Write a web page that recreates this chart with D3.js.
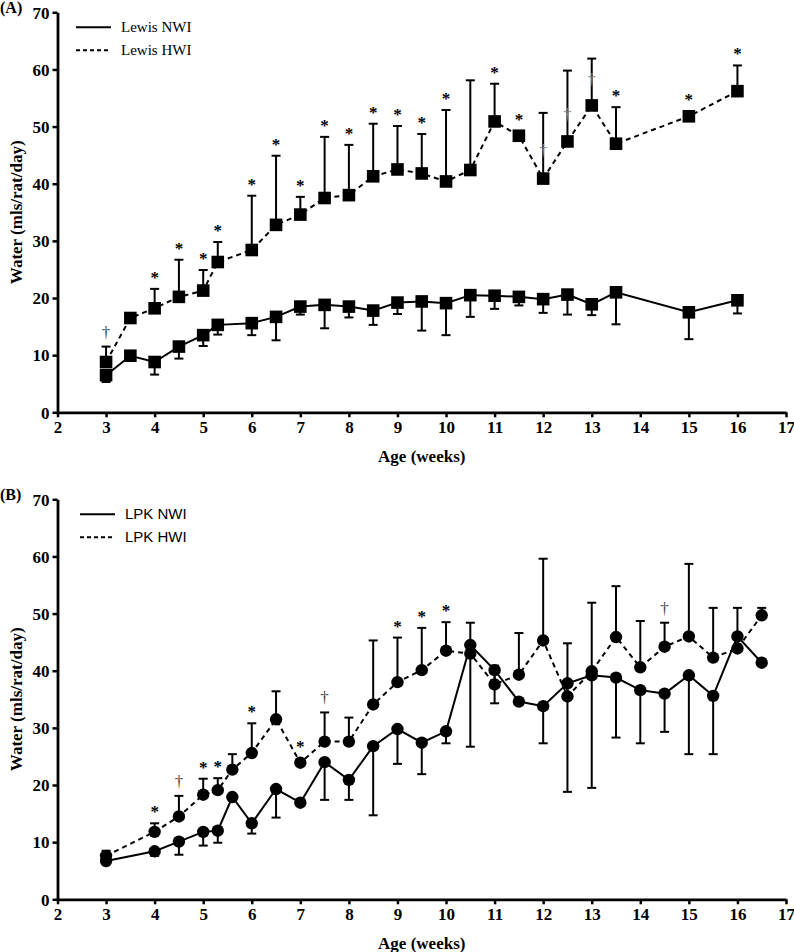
<!DOCTYPE html>
<html><head><meta charset="utf-8">
<script src="https://cdn.jsdelivr.net/npm/d3@7"></script>
<style>body{margin:0;background:#fff}svg{display:block}</style>
</head><body>
<svg id="c" width="794" height="952"></svg>
<script>
// ---------- DATA ----------
const xTicks = [2,3,4,5,6,7,8,9,10,11,12,13,14,15,16,17];
const yTicks = [0,10,20,30,40,50,60,70];

// Panel A : Lewis
const weeksA = [3,3.5,4,4.5,5,5.3,6,6.5,7,7.5,8,8.5,9,9.5,10,10.5,11,11.5,12,12.5,13,13.5,15,16];
const lewisNWI    = [6.5,9.9,8.8,11.5,13.5,15.3,15.6,16.7,18.5,18.8,18.5,17.8,19.2,19.4,19.1,20.5,20.4,20.2,19.8,20.6,18.9,21.0,17.5,19.6];
const lewisNWIerr = [1.2,0,2.2,2.1,1.9,1.7,2.1,4.1,1.4,4.1,1.9,2.5,2.0,5.1,5.6,3.8,2.3,1.5,2.4,3.5,1.9,5.6,4.7,2.3];
const lewisHWI    = [8.8,16.5,18.2,20.2,21.3,26.3,28.4,32.8,34.6,37.5,38.0,41.3,42.5,41.8,40.4,42.4,50.9,48.4,40.9,47.4,53.7,47.0,51.8,56.2];
const lewisHWIerr = [2.7,0,3.4,6.5,3.6,3.5,9.5,12.1,3.1,10.7,8.8,9.2,7.6,6.9,12.5,15.7,6.6,0,11.5,12.4,8.2,6.4,0,4.5];
const sigA        = ["†","","*","*","*","*","*","*","*","*","*","*","*","*","*","","*","*","","","","*","*","*"];
const greyDaggerWeeksA  = [12,12.5,13];
const greyDaggerValuesA = [45.6,52.0,58.1];

// Panel B : LPK
const weeksB = [3,4,4.5,5,5.3,5.6,6,6.5,7,7.5,8,8.5,9,9.5,10,10.5,11,11.5,12,12.5,13,13.5,14,14.5,15,15.5,16,16.5];
const lpkNWI    = [6.7,8.4,10.1,11.8,12.0,17.9,13.3,19.3,16.9,24.0,20.9,26.8,29.8,27.4,29.4,44.5,40.1,34.6,33.8,37.8,39.2,38.8,36.6,36.0,39.2,35.6,46.0,41.4];
const lpkNWIerr = [0,0.8,2.3,2.4,2.1,0,1.8,5.0,0,6.6,3.5,12.1,6.1,5.5,2.1,17.8,5.8,0,6.5,19.0,19.7,10.5,9.3,6.7,13.8,10.2,0,0];
const lpkHWI    = [7.6,11.8,14.5,18.3,19.1,22.7,25.6,31.5,23.9,27.6,27.6,34.1,38.0,40.1,43.5,43.0,37.6,39.3,45.3,35.5,39.9,45.9,40.6,44.2,46.0,42.3,43.9,49.7];
const lpkHWIerr = [0.9,1.5,3.6,2.8,2.1,2.7,5.2,4.9,0,5.1,4.2,11.2,7.8,7.4,5.0,5.4,3.3,7.3,14.3,9.3,12.0,8.9,8.1,4.2,12.7,8.7,7.1,1.3];
const sigB      = ["","*","†","*","*","","*","","*","†","","","*","*","*","","","","","","","","","†","","","",""];

// ---------- DRAW ----------
const svg = d3.select("#c");
const SERIF = "'Liberation Serif','Times New Roman',serif";
const SANS = "'Liberation Sans',Arial,sans-serif";

function panel(opt){
  const x = d3.scaleLinear().domain([2,17]).range([57.5,786]);
  const y = d3.scaleLinear().domain([0,70]).range([opt.y0, opt.y0-400]);
  const g = svg.append("g");

  // axes
  const ax = g.append("g").attr("transform",`translate(0,${opt.y0})`)
    .call(d3.axisBottom(x).tickValues(xTicks).tickFormat(d3.format("d")).tickSize(5).tickSizeOuter(0).tickPadding(4));
  const ay = g.append("g").attr("transform",`translate(57.5,0)`)
    .call(d3.axisLeft(y).tickValues(yTicks).tickFormat(d3.format("d")).tickSize(5).tickSizeOuter(0).tickPadding(3));
  [ax,ay].forEach(a=>{
    a.select(".domain").attr("stroke","#000").attr("stroke-width",2.8);
    a.selectAll(".tick line").attr("stroke","#000").attr("stroke-width",2.5);
    a.selectAll(".tick text").attr("fill","#000").style("font-family",SERIF)
      .style("font-weight","bold").style("font-size","17px");
  });
  ay.selectAll(".tick text").attr("dy","0.34em");

  g.append("text").attr("x",(57.5+786)/2).attr("y",opt.y0+50).attr("text-anchor","middle")
    .style("font-family",SERIF).style("font-weight","bold").style("font-size","17px").text("Age (weeks)");
  g.append("text").attr("transform",`translate(22,${opt.y0-200}) rotate(-90)`).attr("text-anchor","middle")
    .style("font-family",SERIF).style("font-weight","bold").style("font-size","17px").text("Water (mls/rat/day)");
  g.append("text").attr("x",0).attr("y",opt.y0-399).style("font-family",SERIF).style("font-weight","bold")
    .style("font-size","16px").text(opt.label);

  // legend
  const lf = opt.legendFont;
  [[opt.names[0],null],[opt.names[1],"4,3"]].forEach((d,i)=>{
    const ly = opt.y0 - 385 + i*23;
    g.append("line").attr("x1",opt.legX).attr("x2",opt.legX+35).attr("y1",ly).attr("y2",ly)
      .attr("stroke","#000").attr("stroke-width",2).attr("stroke-dasharray",d[1]);
    g.append("text").attr("x",opt.legX+45).attr("y",ly+5).style("font-family",lf)
      .style("font-size","15px").text(d[0]);
  });

  const line = d3.line().x(d=>x(d.w)).y(d=>y(d.v));
  const nwi = opt.weeks.map((w,i)=>({w, v:opt.nwi[i], e:-opt.nwiErr[i]}));
  const hwi = opt.weeks.map((w,i)=>({w, v:opt.hwi[i], e:opt.hwiErr[i], s:opt.sig[i]}));

  // error bars
  [...nwi,...hwi].filter(d=>d.e!==0).forEach(d=>{
    const ye = y(d.v+d.e);
    g.append("line").attr("x1",x(d.w)).attr("x2",x(d.w)).attr("y1",y(d.v)).attr("y2",ye)
      .attr("stroke","#000").attr("stroke-width",2);
    g.append("line").attr("x1",x(d.w)-4.5).attr("x2",x(d.w)+4.5).attr("y1",ye).attr("y2",ye)
      .attr("stroke","#000").attr("stroke-width",2);
  });

  g.append("path").datum(hwi).attr("d",line).attr("fill","none").attr("stroke","#000")
    .attr("stroke-width",2).attr("stroke-dasharray","5,4");
  g.append("path").datum(nwi).attr("d",line).attr("fill","none").attr("stroke","#000").attr("stroke-width",2);

  [...nwi,...hwi].forEach(d=>{
    if(opt.marker==="square"){
      g.append("rect").attr("x",x(d.w)-6.3).attr("y",y(d.v)-6.3).attr("width",12.6).attr("height",12.6).attr("fill","#000");
    } else {
      g.append("circle").attr("cx",x(d.w)).attr("cy",y(d.v)).attr("r",6.2).attr("fill","#000");
    }
  });

  // significance marks
  hwi.filter(d=>d.s).forEach(d=>{
    const top = d.e>0 ? y(d.v+d.e) : y(d.v)-5;
    if(d.s==="*"){
      g.append("text").attr("x",x(d.w)).attr("y",top-6).attr("text-anchor","middle")
        .style("font-family",SERIF).style("font-weight","bold").style("font-size","17px").text("*");
    } else {
      g.append("text").attr("x",x(d.w)).attr("y",top-9).attr("text-anchor","middle").attr("fill","#444")
        .style("font-family",SERIF).style("font-size","17px").text("†");
    }
  });
  (opt.greyW||[]).forEach((w,i)=>{
    g.append("text").attr("x",x(w)).attr("y",y(opt.greyV[i])+4.5).attr("text-anchor","middle").attr("fill","#888")
      .style("font-family",SERIF).style("font-size","16px").text("†");
  });
}

panel({y0:412.3,label:"(A)",names:["Lewis NWI","Lewis HWI"],legX:76,legendFont:SERIF,marker:"square",
  weeks:weeksA,nwi:lewisNWI,nwiErr:lewisNWIerr,hwi:lewisHWI,hwiErr:lewisHWIerr,sig:sigA,
  greyW:greyDaggerWeeksA,greyV:greyDaggerValuesA});
panel({y0:899.3,label:"(B)",names:["LPK NWI","LPK HWI"],legX:80,legendFont:SANS,marker:"circle",
  weeks:weeksB,nwi:lpkNWI,nwiErr:lpkNWIerr,hwi:lpkHWI,hwiErr:lpkHWIerr,sig:sigB});
</script>
</body></html>
